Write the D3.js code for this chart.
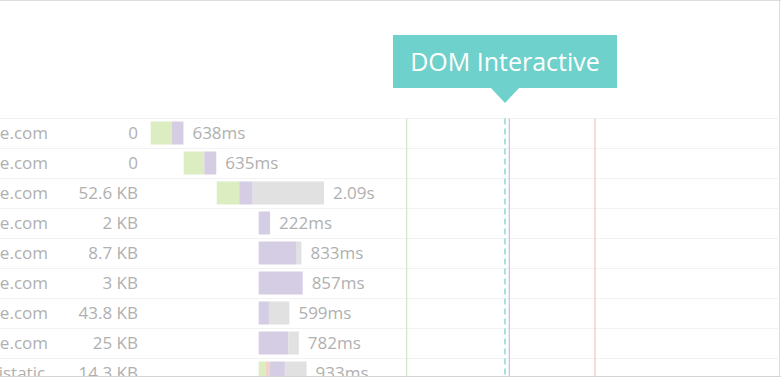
<!DOCTYPE html>
<html>
<head>
<meta charset="utf-8">
<script src="https://cdn.jsdelivr.net/npm/d3@7"></script>
<style>
  body { margin: 0; background: #fff; }
  svg { display: block; font-family: "Open Sans", sans-serif; }
</style>
</head>
<body>
<div id="chart-area"></div>
<script>
// waterfall rows (timings in ms)
var names = ["www.example.com", "www.example.com", "www.example.com", "www.example.com",
             "www.example.com", "www.example.com", "www.example.com", "www.example.com",
             "css.example.istatic.com"];
var sizes = ["0", "0", "52.6 KB", "2 KB", "8.7 KB", "3 KB", "43.8 KB", "25 KB", "14.3 KB"];
var startMs   = [0, 643, 1287, 2105, 2105, 2105, 2105, 2105, 2105];
var connectMs = [415, 402, 440, 0, 0, 0, 0, 0, 140];
var sslMs     = [0, 0, 0, 0, 0, 0, 0, 0, 80];
var waitMs    = [223, 233, 260, 222, 740, 857, 200, 577, 290];
var receiveMs = [0, 0, 1390, 0, 93, 0, 399, 205, 423];

// page event markers
var firstPaintMs = 4990;
var domInteractiveMs = 6906;
var domContentMs = 6990;
var loadMs = 8661;

const svgWidth = 781;
const svgHeight = 377;
var rowTop = 118.5, rowH = 30;
var textColor = "#b0b0b0";

var svg = d3.select("#chart-area")
    .append("svg")
        .attr("width", svgWidth)
        .attr("height", svgHeight);

var x = d3.scaleLinear()
    .domain([0, 10000])
    .range([150.7, 150.7 + 513]);

var y = d3.scaleBand()
    .domain(d3.range(names.length))
    .range([rowTop, rowTop + rowH * names.length]);

// row separators
svg.selectAll(".sep")
    .data(d3.range(names.length))
    .enter().append("line")
    .attr("x1", 0).attr("x2", 778)
    .attr("y1", function(i){ return y(i); })
    .attr("y2", function(i){ return y(i); })
    .attr("stroke", "#f2f2f2");

// names: left aligned so the first one ends at x=48, trimmed to the column
var probe = svg.append("text").attr("font-size", "17px").text(names[0]);
var nameX = 48 - probe.node().getComputedTextLength();
probe.remove();

svg.selectAll(".name")
    .data(names)
    .enter().append("text")
    .attr("x", nameX)
    .attr("y", function(d, i){ return y(i) + rowH / 2; })
    .attr("dy", "0.35em")
    .attr("font-size", "17px")
    .attr("fill", textColor)
    .text(function(d){ return d; })
    .each(function(d){
        var t = d3.select(this), s = d;
        while (nameX + this.getComputedTextLength() > 52 && s.length > 1) {
            s = s.slice(0, -1);
            t.text(s);
        }
    });

// sizes
svg.selectAll(".size")
    .data(sizes)
    .enter().append("text")
    .attr("x", 138)
    .attr("y", function(d, i){ return y(i) + rowH / 2; })
    .attr("dy", "0.35em")
    .attr("text-anchor", "end")
    .attr("font-size", "17px")
    .attr("fill", textColor)
    .text(function(d){ return d; });

// bar segments
var segs = [
    {vals: connectMs, color: "#dcedc1"},
    {vals: sslMs, color: "#f1d3c8"},
    {vals: waitMs, color: "#d4cde4"},
    {vals: receiveMs, color: "#e1e1e1"}
];
var rows = d3.range(names.length).map(function(i){
    var t = startMs[i], parts = [];
    segs.forEach(function(s){
        if (s.vals[i] > 0) parts.push({i: i, t0: t, t1: t + s.vals[i], color: s.color});
        t += s.vals[i];
    });
    return {i: i, parts: parts, end: t, total: t - startMs[i]};
});

var rowG = svg.selectAll(".row")
    .data(rows)
    .enter().append("g");

rowG.selectAll("rect")
    .data(function(d){ return d.parts; })
    .enter().append("rect")
    .attr("x", function(d){ return x(d.t0); })
    .attr("width", function(d){ return x(d.t1) - x(d.t0); })
    .attr("y", function(d){ return y(d.i) + 3; })
    .attr("height", 23)
    .attr("fill", function(d){ return d.color; });

rowG.append("text")
    .attr("x", function(d){ return x(d.end) + 9; })
    .attr("y", function(d){ return y(d.i) + rowH / 2; })
    .attr("dy", "0.35em")
    .attr("font-size", "17px")
    .attr("fill", textColor)
    .text(function(d){
        return d.total < 1000 ? d.total + "ms" : (d.total / 1000).toFixed(2) + "s";
    });

// marker lines
function marker(ms, color, dash) {
    svg.append("line")
        .attr("x1", x(ms)).attr("x2", x(ms))
        .attr("y1", rowTop).attr("y2", svgHeight)
        .attr("stroke", color)
        .attr("stroke-width", 1.2)
        .attr("stroke-dasharray", dash || null);
}
marker(firstPaintMs, "#cfe8c4");
marker(domContentMs, "#c3bdf0");
marker(loadMs, "#f2c4c4");
marker(domInteractiveMs, "#6ecfca", "6,4");

// DOM Interactive callout
var cx = x(domInteractiveMs);
svg.append("rect")
    .attr("x", cx - 112).attr("y", 35)
    .attr("width", 224).attr("height", 53)
    .attr("fill", "#6fd1cb");
svg.append("path")
    .attr("d", "M" + (cx - 15) + ",87 L" + (cx + 15) + ",87 L" + cx + ",103 Z")
    .attr("fill", "#6fd1cb");
svg.append("text")
    .attr("x", cx)
    .attr("y", 62)
    .attr("dy", "0.35em")
    .attr("text-anchor", "middle")
    .attr("font-size", "25px")
    .attr("fill", "#ffffff")
    .text("DOM Interactive");

// frame
svg.append("line").attr("x1", 0).attr("x2", 781).attr("y1", 0.5).attr("y2", 0.5).attr("stroke", "#dddddd");
svg.append("line").attr("x1", 0).attr("x2", 781).attr("y1", 376.5).attr("y2", 376.5).attr("stroke", "#d4d4d4");
svg.append("line").attr("x1", 779.5).attr("x2", 779.5).attr("y1", 0).attr("y2", 377).attr("stroke", "#dddddd");
</script>
</body>
</html>
